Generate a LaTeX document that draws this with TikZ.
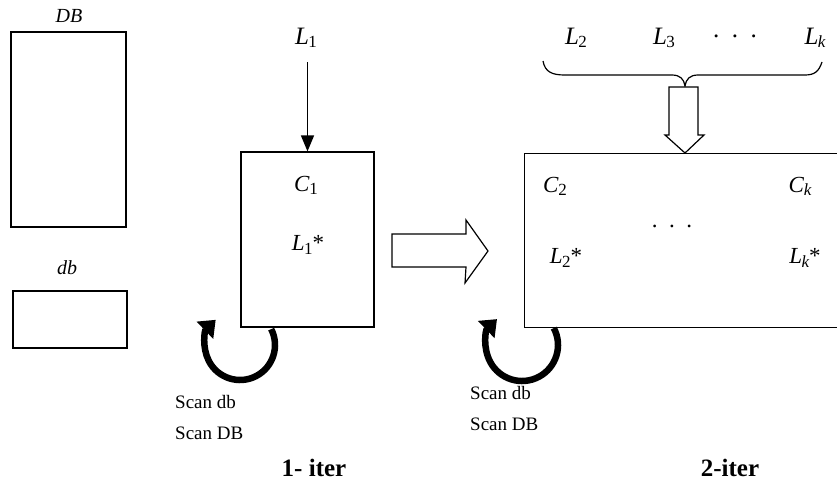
\documentclass[tikz,border=0pt]{standalone}
\usepackage{fontspec}
\setmainfont{Liberation Serif}
\usetikzlibrary{arrows.meta}
\newcommand{\sym}[2]{\textit{#1}\kern-0.02em\raisebox{-0.3ex}{\fontsize{17}{17}\selectfont #2}}
\begin{document}
\begin{tikzpicture}[x=1pt,y=-1pt,
  box/.style={draw,line width=1.2pt,inner sep=0pt},
  lbl/.style={inner sep=0pt,font=\fontsize{23}{23}\selectfont},
  toplbl/.style={inner sep=0pt,font=\fontsize{25}{25}\selectfont},
  scan/.style={inner sep=0pt,align=left,anchor=north west,
    font=\fontsize{19}{31}\selectfont},
  itr/.style={inner sep=0pt,font=\fontsize{25}{25}\selectfont\bfseries},
  hollow/.style={draw,line width=1.2pt,fill=white,line join=miter},
  loop/.style={line width=6.5pt,-{Triangle[length=15pt,width=23pt]}}]
\useasboundingbox (0,0) rectangle (837,488);
\clip (0,0) rectangle (837,488);

% storage boxes on the left
\node[box,minimum width=115pt,minimum height=195pt] (DB) at (68.5,129.5) {};
\node[box,minimum width=114pt,minimum height=57pt] (db) at (70,319.5) {};
\node[inner sep=0pt,font=\fontsize{20}{20}\selectfont\itshape] (DBl) at (69,16) {DB};
\node[inner sep=0pt,font=\fontsize{20}{20}\selectfont\itshape] (dbl) at (67,268) {db};

% first iteration
\node[box,minimum width=133pt,minimum height=175pt] (it1) at (307.5,239.5) {};
\node[toplbl] (L1) at (306,38) {\sym{L}{1}};
\draw[line width=1.4pt,-{Triangle[length=16pt,width=13pt]}]
  (it1.north |- L1.south) ++(0,14) -- (it1.north);
\node[lbl] (C1) at (306,185) {\sym{C}{1}};
\node[lbl] (L1s) at (308,245) {\sym{L}{1}*};

% hollow arrow between the iterations
\draw[hollow] (392,234) -- (466,234) -- (466,220) -- (488,251) -- (465,283)
  -- (466,267) -- (392,267) -- cycle;

% second iteration
\node[box,minimum width=340pt,minimum height=174pt,anchor=north west] (it2) at (524,153) {};
\node[toplbl] (L2) at (576,38) {\sym{L}{2}};
\node[toplbl] (L3) at (664,38) {\sym{L}{3}};
\node[toplbl] (dt1) at (735,36) {.\hspace{0.5em}.\hspace{0.5em}.};
\node[toplbl] (Lk) at (815,38) {\sym{L}{\itshape k}};
\draw[line width=1.2pt] (543,61) .. controls (545,72) and (552,75) .. (565,75)
  -- (672,75) .. controls (680,75) and (684,79) .. (685,86)
  .. controls (686,79) and (690,75) .. (698,75)
  -- (805,75) .. controls (815,75) and (819,71) .. (822,62);
\draw[hollow] (669,87) -- (698,87) -- (698,135) -- (704,135) -- (685,153)
  -- (665,135) -- (669,135) -- cycle;
\node[lbl] (C2) at (555,186) {\sym{C}{2}};
\node[lbl] (Ck) at (800,186) {\sym{C}{\itshape k}};
\node[lbl] (dt2) at (672,226) {.\hspace{0.5em}.\hspace{0.5em}.};
\node[lbl] (L2s) at (566,258) {\sym{L}{2}*};
\node[lbl] (Lks) at (805,258) {\sym{L}{\itshape k}*};

% scan loops under the boxes
\coordinate (c1) at (240,345);
\coordinate (c2) at (522,345);
\draw[loop] (c1) ++(-27:35) arc[start angle=-27,end angle=226,radius=35];
\draw[loop] (c2) ++(-28:36) arc[start angle=-28,end angle=226,radius=36];
\node[scan] (s1) at (175,395) {Scan db\\Scan DB};
\node[scan] (s2) at (470,386) {Scan db\\Scan DB};
\node[itr] (i1) at (314,468) {1- iter};
\node[itr] (i2) at (730,468) {2-iter};
\end{tikzpicture}
\end{document}
